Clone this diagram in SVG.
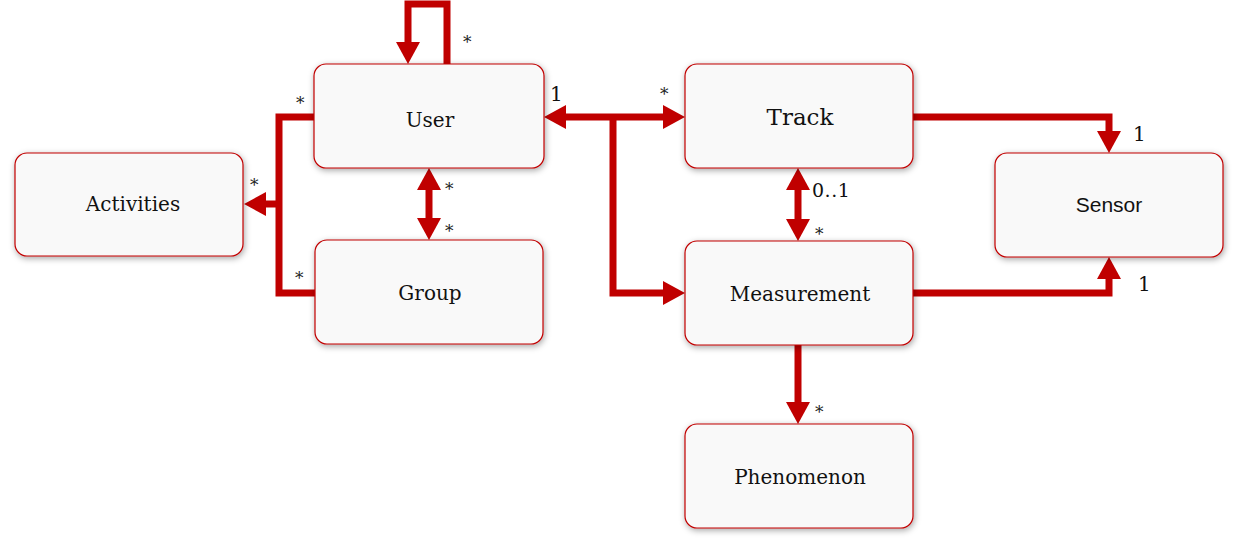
<svg xmlns="http://www.w3.org/2000/svg" width="1239" height="544" viewBox="0 0 1239 544">
<style>
.box{fill:#f9f9f9;stroke:#c00000;stroke-width:1.2;filter:url(#sh)}
.lbl{font-family:"DejaVu Serif","Liberation Serif",serif;font-size:20px;fill:#111;text-anchor:middle}
.sans{font-family:"Liberation Sans","DejaVu Sans",sans-serif;font-size:21px;fill:#111;text-anchor:middle}
.m{font-family:"DejaVu Serif","Liberation Serif",serif;font-size:17px;fill:#222}
.d{font-family:"DejaVu Serif","Liberation Serif",serif;font-size:20px;fill:#111}
.c{fill:none;stroke:#c00000;stroke-width:7}
</style>
<defs>
<filter id="sh" x="-20%" y="-30%" width="140%" height="160%">
<feDropShadow dx="1" dy="2" stdDeviation="3" flood-color="#000" flood-opacity="0.35"/>
</filter>
<marker id="ah" viewBox="0 0 22 24" refX="0" refY="12" markerWidth="22" markerHeight="24" markerUnits="userSpaceOnUse" orient="auto-start-reverse">
<path d="M0,0 L22,12 L0,24 Z" fill="#c00000"/>
</marker>
</defs>
<g id="connectors">
<path class="c" d="M447,64 V4 H408 V42" marker-end="url(#ah)"/>
<path class="c" d="M314,117 H279 V293 H315"/>
<path class="c" d="M279,204 H266" marker-end="url(#ah)"/>
<path class="c" d="M429,190 V218" marker-start="url(#ah)" marker-end="url(#ah)"/>
<path class="c" d="M566,117 H663" marker-start="url(#ah)" marker-end="url(#ah)"/>
<path class="c" d="M613,117 V293 H663" marker-end="url(#ah)"/>
<path class="c" d="M798,190 V219" marker-start="url(#ah)" marker-end="url(#ah)"/>
<path class="c" d="M913,117 H1109 V131" marker-end="url(#ah)"/>
<path class="c" d="M913,293 H1109 V279" marker-end="url(#ah)"/>
<path class="c" d="M798,345 V402" marker-end="url(#ah)"/>
</g>
<g id="multiplicities">
<text class="m" x="463" y="48">*</text>
<text class="m" x="296" y="109">*</text>
<text class="m" x="250" y="191">*</text>
<text class="m" x="295" y="284">*</text>
<text class="m" x="445" y="195">*</text>
<text class="m" x="445" y="237">*</text>
<text class="d" x="550" y="101">1</text>
<text class="m" x="660" y="100">*</text>
<text class="d" x="812" y="197" style="font-size:19px" letter-spacing="0.5">0..1</text>
<text class="m" x="815" y="240">*</text>
<text class="d" x="1133" y="141">1</text>
<text class="d" x="1138" y="291">1</text>
<text class="m" x="815" y="418">*</text>
</g>
<g id="user"><rect class="box" x="314" y="64" width="230" height="104" rx="12"/><text class="lbl" x="430" y="127">User</text></g>
<g id="activities"><rect class="box" x="15" y="153" width="228" height="103" rx="12"/><text class="lbl" x="133" y="211">Activities</text></g>
<g id="group"><rect class="box" x="315" y="240" width="228" height="104" rx="12"/><text class="lbl" x="430" y="300">Group</text></g>
<g id="track"><rect class="box" x="685" y="64" width="228" height="104" rx="12"/><text class="lbl" x="800" y="125" style="font-size:23px">Track</text></g>
<g id="sensor"><rect class="box" x="995" y="153" width="228" height="104" rx="12"/><text class="sans" x="1109" y="212">Sensor</text></g>
<g id="measurement"><rect class="box" x="685" y="241" width="228" height="104" rx="12"/><text class="lbl" x="800" y="301">Measurement</text></g>
<g id="phenomenon"><rect class="box" x="685" y="424" width="228" height="104" rx="12"/><text class="lbl" x="800" y="484">Phenomenon</text></g>
</svg>
